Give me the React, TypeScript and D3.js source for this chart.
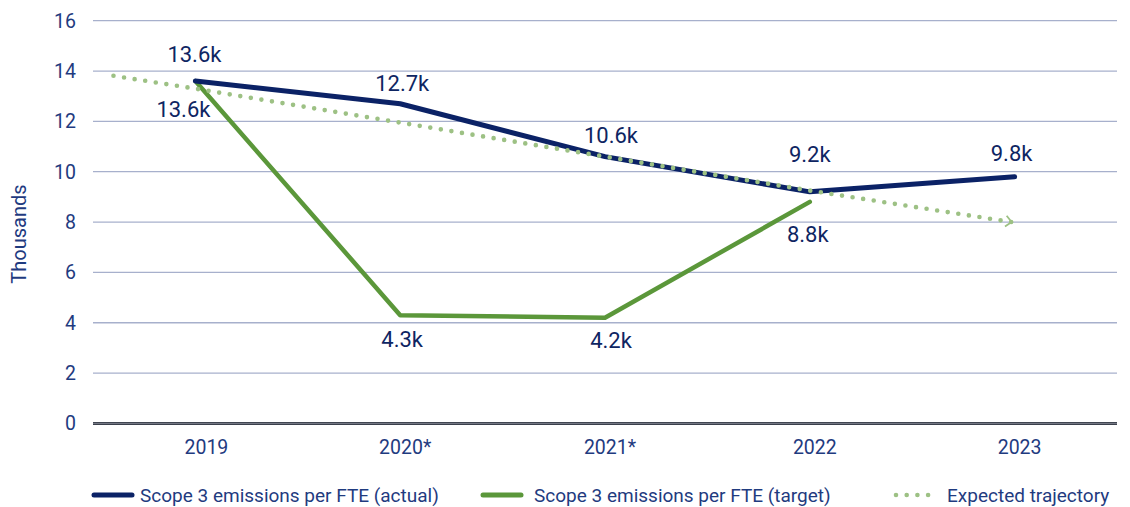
import React from "react";
import * as d3 from "d3";

const categories = ["2019", "2020*", "2021*", "2022", "2023"];
const actualValues = [13.6, 12.7, 10.6, 9.2, 9.8];
const targetValues = [13.6, 4.3, 4.2, 8.8];
const trajectoryStart = 13.81; // value where the trajectory begins, 0.4 category before 2019
const trajectoryValues = [13.3, 11.95, 10.6, 9.25, 8.0];
const yTicks = [0, 2, 4, 6, 8, 10, 12, 14, 16];
const actualLabels = ["13.6k", "12.7k", "10.6k", "9.2k", "9.8k"];
const targetLabels = ["13.6k", "4.3k", "4.2k", "8.8k"];
const legendItems = [
  "Scope 3 emissions per FTE (actual)",
  "Scope 3 emissions per FTE (target)",
  "Expected trajectory",
];

const W = 1130;
const H = 507;
const left = 93;
const right = 1117;
const top = 20.7;
const bottom = 423.4;

const NAVY = "#0b2266";
const GREEN = "#5b973a";
const LIGHTGREEN = "#9dc184";
const GRID = "#a7b0cc";
const TEXT = "#1f3b7f";
const LABEL = "#0e2562";
const FONT = "Roboto, 'Noto Sans', sans-serif";

// label offsets (dx, dy) relative to the point
const actualOffsets = [[-1, -19], [2, -13], [6, -14], [0, -30], [-3, -16]];
const targetOffsets = [[-12, 36], [2, 32], [6, 30], [-2, 40]];

export default function App() {
  const x = d3.scaleBand<string>().domain(categories).range([left, right]);
  const cx = (i: number) => (x(categories[i]) as number) + x.bandwidth() / 2;
  const y = d3.scaleLinear().domain([0, 16]).range([bottom, top]);
  const step = x.step();

  const line = d3
    .line<[number, number]>()
    .x((d) => d[0])
    .y((d) => d[1]);

  const actualPts: [number, number][] = actualValues.map((v, i) => [cx(i), y(v)]);
  const targetPts: [number, number][] = targetValues.map((v, i) => [cx(i), y(v)]);
  const trajPts: [number, number][] = [
    [cx(0) - 0.4 * step, y(trajectoryStart)],
    ...trajectoryValues.map((v, i) => [cx(i) - (i === trajectoryValues.length - 1 ? 3 : 0), y(v)] as [number, number]),
  ];
  const end = trajPts[trajPts.length - 1];
  const prev = trajPts[trajPts.length - 2];
  const ang = Math.atan2(end[1] - prev[1], end[0] - prev[0]);
  const ah = 8;
  const arrow = [
    [end[0] - ah * Math.cos(ang - 0.75), end[1] - ah * Math.sin(ang - 0.75)],
    [end[0], end[1]],
    [end[0] - ah * Math.cos(ang + 0.75), end[1] - ah * Math.sin(ang + 0.75)],
  ] as [number, number][];

  const legendY = 495;
  const legendX = [92, 481, 894];
  const legendTextX = [140, 534, 947];

  return (
    <div style={{ position: "absolute", left: 0, top: 0 }}>
      <svg width={W} height={H} style={{ display: "block", background: "#fff" }} fontFamily={FONT}>
        {/* grid */}
        {yTicks.map((t) =>
          t === 0 ? null : (
            <line key={t} x1={left} x2={right} y1={y(t)} y2={y(t)} stroke={GRID} strokeWidth={1.3} />
          )
        )}
        <line x1={left} x2={right} y1={y(0)} y2={y(0)} stroke="#3b404c" strokeWidth={3} />
        <line x1={left} x2={right} y1={y(0)} y2={y(0)} stroke="#8b909a" strokeWidth={0.8} />
        {/* y ticks */}
        {yTicks.map((t) => (
          <text key={t} x={76} y={y(t) + 7} textAnchor="end" fontSize={19.5} fill={TEXT}>
            {t}
          </text>
        ))}
        <text
          transform={`translate(26, ${(top + bottom) / 2 + 12}) rotate(-90)`}
          textAnchor="middle"
          fontSize={20}
          fill={TEXT}
        >
          Thousands
        </text>
        {/* x ticks */}
        {categories.map((c, i) => (
          <text key={c} x={cx(i) + (i === 0 ? 11 : 5)} y={454} textAnchor="middle" fontSize={19.5} fill={TEXT}>
            {c}
          </text>
        ))}
        {/* target line */}
        <path d={line(targetPts) || ""} fill="none" stroke={GREEN} strokeWidth={4.5} strokeLinejoin="round" strokeLinecap="round" />
        {/* actual line */}
        <path d={line(actualPts) || ""} fill="none" stroke={NAVY} strokeWidth={5} strokeLinejoin="round" strokeLinecap="round" />
        {/* trajectory */}
        <path
          d={line(trajPts) || ""}
          fill="none"
          stroke={LIGHTGREEN}
          strokeWidth={4.6}
          strokeLinecap="round"
          strokeDasharray="0 10.7"
        />
        <path d={line(arrow) || ""} fill="none" stroke={LIGHTGREEN} strokeWidth={1.8} />
        {/* labels */}
        {actualPts.map((p, i) => (
          <text
            key={"a" + i}
            x={p[0] + actualOffsets[i][0]}
            y={p[1] + actualOffsets[i][1]}
            textAnchor="middle"
            fontSize={22}
            fill={LABEL}
          >
            {actualLabels[i]}
          </text>
        ))}
        {targetPts.map((p, i) => (
          <text
            key={"t" + i}
            x={p[0] + targetOffsets[i][0]}
            y={p[1] + targetOffsets[i][1]}
            textAnchor="middle"
            fontSize={22}
            fill={LABEL}
          >
            {targetLabels[i]}
          </text>
        ))}
        {/* legend */}
        <line x1={legendX[0] + 2} x2={legendX[0] + 40} y1={legendY} y2={legendY} stroke={NAVY} strokeWidth={5} strokeLinecap="round" />
        <line x1={legendX[1] + 2} x2={legendX[1] + 40} y1={legendY} y2={legendY} stroke={GREEN} strokeWidth={5} strokeLinecap="round" />
        <line
          x1={legendX[2] + 2}
          x2={legendX[2] + 36}
          y1={legendY}
          y2={legendY}
          stroke={LIGHTGREEN}
          strokeWidth={4.6}
          strokeLinecap="round"
          strokeDasharray="0 10.7"
        />
        {legendItems.map((t, i) => (
          <text key={t} x={legendTextX[i]} y={legendY + 7} fontSize={19} fill={TEXT}>
            {t}
          </text>
        ))}
      </svg>
    </div>
  );
}
